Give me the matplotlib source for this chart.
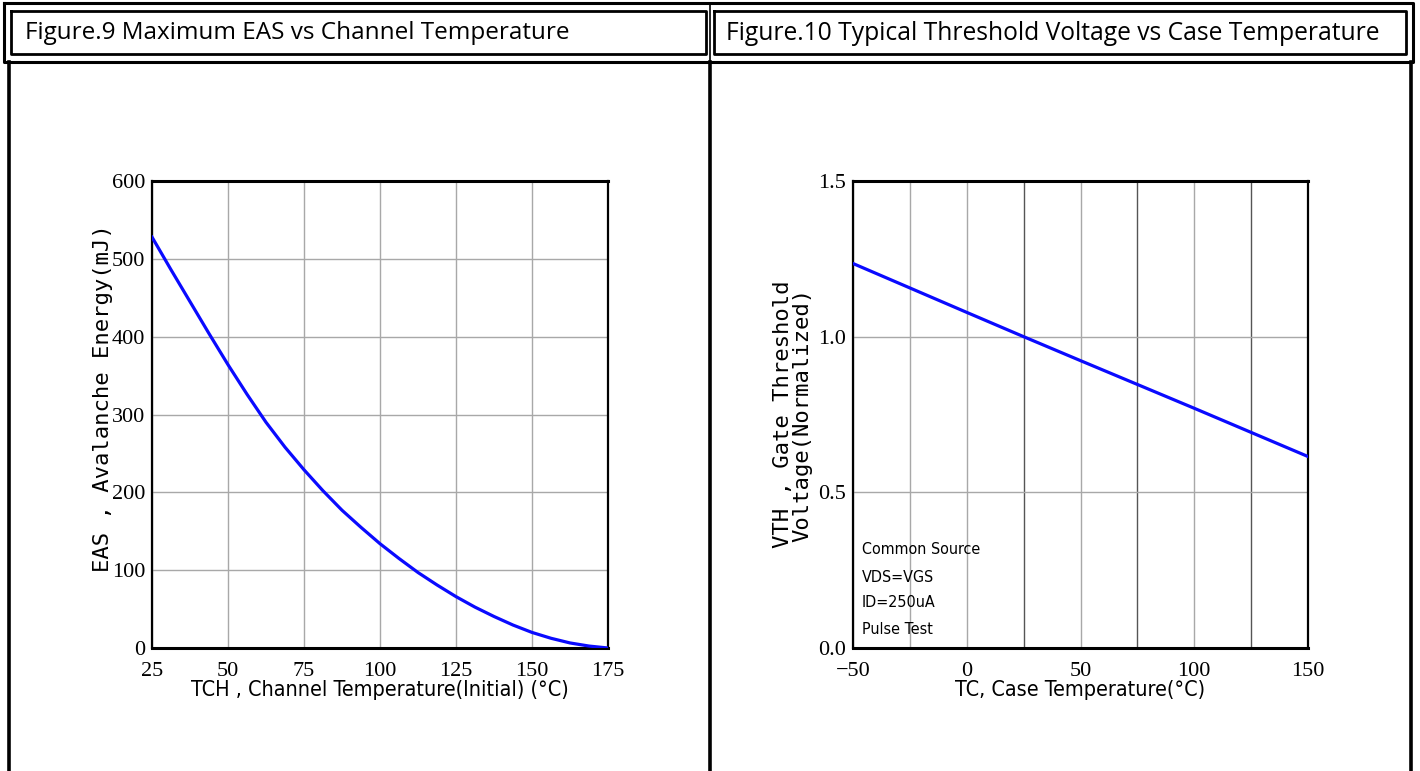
import matplotlib.pyplot as plt
from matplotlib import font_manager as fm

# data
tch = [25, 31.25, 37.5, 43.75, 50, 56.25, 62.5, 68.75, 75, 81.25, 87.5, 93.75, 100,
       106.25, 112.5, 118.75, 125, 131.25, 137.5, 143.75, 150, 156.25, 162.5, 168.75, 175]
eas = [528, 486, 445, 404, 364, 326, 290, 258, 229, 202, 177, 155, 134,
       115, 97, 81, 66, 52.5, 40.5, 29.5, 20, 12.5, 6.5, 2.5, 0]

tc = [-50, 0, 25, 50, 100, 150]
vth = [1.235, 1.078, 1.0, 0.923, 0.77, 0.615]

notes = ['Common Source', 'VDS=VGS', 'ID=250uA', 'Pulse Test']
note_y = [0.315, 0.228, 0.145, 0.061]

serif = 'Liberation Serif'
title_font = 'Open Sans'
mono = 'DejaVu Sans Mono'

# look for a narrow sans face; otherwise plain Liberation Sans
narrow_file = None
for f in fm.fontManager.ttflist:
    fn = f.fname.lower()
    if ('narrow' in fn or 'condensed' in fn) and 'sans' in f.name.lower() \
            and 'mono' not in fn and 'bold' not in fn and 'oblique' not in fn \
            and 'italic' not in fn and 'light' not in fn:
        narrow_file = f.fname
        break


def nfont(size):
    if narrow_file:
        return fm.FontProperties(fname=narrow_file, size=size)
    return fm.FontProperties(family='Liberation Sans', size=size * 0.88)


W, H = 1420, 771
fig = plt.figure(figsize=(W / 100, H / 100), dpi=100)

# frame drawn in pixel coords
fr = fig.add_axes([0, 0, 1, 1])
fr.set_xlim(0, W)
fr.set_ylim(H, 0)
fr.axis('off')
k = dict(color='black', solid_capstyle='projecting')
# outer header box
fr.plot([4, 1413, 1413, 4, 4], [3, 3, 62, 62, 3], lw=2.2, **k)
# title boxes
fr.plot([11, 706, 706, 11, 11], [11, 11, 54, 54, 11], lw=2.0, **k)
fr.plot([714, 1406, 1406, 714, 714], [11, 11, 54, 54, 11], lw=2.0, **k)
fr.plot([710, 710], [3, 62], lw=1.2, **k)
# column lines
for xv in [9, 710, 1411]:
    fr.plot([xv, xv], [62, H + 5], lw=2.6, **k)

fr.text(25, 33, 'Figure.9 Maximum EAS vs Channel Temperature', fontsize=17.5,
        family=title_font, va='center', ha='left')
fr.text(726, 33, 'Figure.10 Typical Threshold Voltage vs Case Temperature', fontsize=17.7,
        family=title_font, va='center', ha='left')

grid_kw = dict(color='#a8a8a8', lw=1.0)


def style(ax):
    for s in ax.spines.values():
        s.set_linewidth(1.6)
        s.set_color('black')
    ax.spines['top'].set_linewidth(2.2)
    ax.spines['bottom'].set_linewidth(2.2)
    ax.tick_params(length=0, labelsize=16)
    ax.tick_params(axis='x', pad=10)
    ax.tick_params(axis='y', pad=5)
    for lab in ax.get_xticklabels() + ax.get_yticklabels():
        lab.set_family(serif)


# Figure 9
ax1 = fig.add_axes([152 / W, 1 - 648 / H, (608 - 152) / W, (648 - 181) / H])
ax1.plot(tch, eas, color='#0a0aff', lw=2.3, zorder=3)
ax1.set_xlim(25, 175)
ax1.set_ylim(0, 600)
ax1.set_xticks([25, 50, 75, 100, 125, 150, 175])
ax1.set_yticks([0, 100, 200, 300, 400, 500, 600])
ax1.grid(True, **grid_kw)
style(ax1)
ax1.set_xlabel('TCH , Channel Temperature(Initial) (°C)', fontproperties=nfont(15.5), labelpad=-1)
ax1.set_ylabel('EAS , Avalanche Energy(mJ)', family=mono, fontsize=16)
ax1.yaxis.set_label_coords(-0.085, 0.535)

# Figure 10
ax2 = fig.add_axes([853 / W, 1 - 648 / H, (1308 - 853) / W, (648 - 181) / H])
ax2.plot(tc, vth, color='#0a0aff', lw=2.3, zorder=3)
ax2.set_xlim(-50, 150)
ax2.set_ylim(0, 1.5)
ax2.set_xticks([-50, -25, 0, 50, 100, 150])
ax2.set_xticklabels(['\u221250', '', '0', '50', '100', '150'])
ax2.set_xticks([25, 75, 125], minor=True)
ax2.set_yticks([0, 0.5, 1.0, 1.5])
ax2.set_yticklabels(['0.0', '0.5', '1.0', '1.5'])
ax2.grid(True, which='major', **grid_kw)
ax2.grid(True, which='minor', axis='x', color='#555555', lw=1.0)
ax2.tick_params(which='minor', length=0)
style(ax2)
ax2.set_xlabel('TC, Case Temperature(°C)', fontproperties=nfont(15.5), labelpad=-1)
ax2.set_ylabel('VTH , Gate Threshold\nVoltage(Normalized)', family=mono, fontsize=16,
               linespacing=0.95)
ax2.yaxis.set_label_coords(-0.09, 0.5)

for t, yv in zip(notes, note_y):
    ax2.text(-46, yv, t, fontproperties=nfont(11.5), va='center', ha='left', zorder=4)

fig.savefig('out.png', dpi=100)
